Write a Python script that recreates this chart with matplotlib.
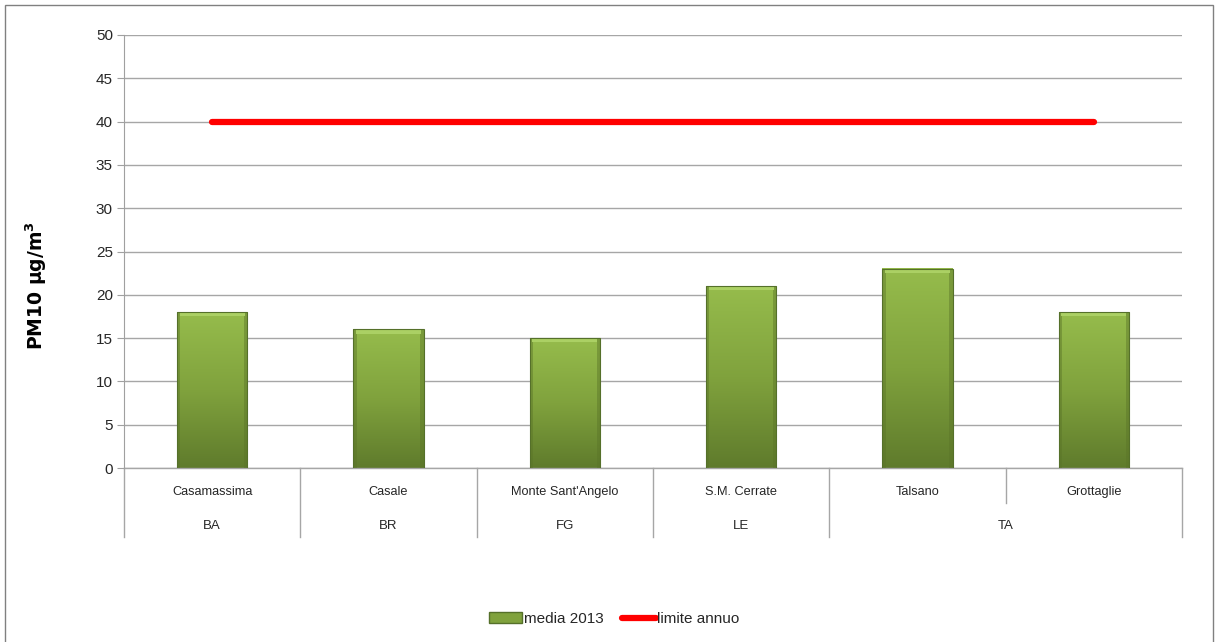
import numpy as np
import matplotlib.pyplot as plt
from matplotlib.patches import Rectangle
from matplotlib.lines import Line2D
from matplotlib.colors import LinearSegmentedColormap
import matplotlib.transforms as mtransforms

plt.rcParams['font.family'] = ['Liberation Sans', 'DejaVu Sans']

# stations, provinces and yearly means
stations = ["Casamassima", "Casale", "Monte Sant'Angelo", "S.M. Cerrate", "Talsano", "Grottaglie"]
provinces = ["BA", "BR", "FG", "LE", "TA"]
province_span = [1, 1, 1, 1, 2]
media_2013 = [18, 16, 15, 21, 23, 18]
limite_annuo = 40

fig = plt.figure(figsize=(12.15, 6.42), dpi=100)
W, H = 1215, 642
ax = fig.add_axes([124 / W, 1 - 468 / H, (1182 - 124) / W, (468 - 35) / H])

n = len(stations)
x = np.arange(n)
ax.set_yticks(np.arange(0, 51, 5))
ax.tick_params(axis='y', labelsize=11, labelcolor='#262626', length=5, color='#a0a0a0', pad=3)
ax.tick_params(axis='x', bottom=False, labelbottom=False)
ax.yaxis.grid(True, color='#a6a6a6', linewidth=1)
ax.set_axisbelow(True)
for s in ['top', 'right', 'bottom']:
    ax.spines[s].set_visible(False)
ax.spines['left'].set_color('#a0a0a0')

# green bars with vertical gradient and bevelled edges
green = LinearSegmentedColormap.from_list('g', ['#5f7b2c', '#80a23d', '#96bc4c'])
grad = np.linspace(0, 1, 256).reshape(-1, 1)
bw = 0.4
for xi, v in zip(x, media_2013):
    ax.imshow(grad, cmap=green, origin='lower', aspect='auto',
              extent=[xi - bw / 2, xi + bw / 2, 0, v], zorder=2)
    # darker side strips
    for sx in (xi - bw / 2, xi + bw / 2 - 0.02):
        ax.add_patch(Rectangle((sx, 0), 0.02, v, facecolor='#5a7428',
                               edgecolor='none', alpha=0.45, zorder=3))
    # light bevel at top
    ax.add_patch(Rectangle((xi - bw / 2 + 0.015, v - 0.5), bw - 0.03, 0.45,
                           facecolor='#abd064', edgecolor='none', zorder=3))
    ax.add_patch(Rectangle((xi - bw / 2, 0), bw, v, fill=False,
                           edgecolor='#55702a', linewidth=0.8, zorder=3))
ax.set_xlim(-0.5, n - 0.5)
ax.set_ylim(0, 50)

# annual limit line
ax.plot([x[0], x[-1]], [limite_annuo] * 2, color='#ff0000', linewidth=4.5,
        solid_capstyle='round', zorder=4)

# two-level category axis
trans = mtransforms.blended_transform_factory(ax.transData, ax.transAxes)
y_row1 = (468 - 503) / 433
y_row2 = (468 - 537) / 433
line_kw = dict(color='#a6a6a6', linewidth=1, transform=trans, clip_on=False)
ax.plot([-0.5, n - 0.5], [0, 0], **line_kw)
ax.plot([-0.5, -0.5], [0, y_row2], **line_kw)
ax.plot([n - 0.5, n - 0.5], [0, y_row2], **line_kw)
for i, st in enumerate(stations):
    ax.text(i, (468 - 492) / 433, st, transform=trans, ha='center', va='center',
            fontsize=9.2, color='#262626')
pos = 0
for prov, span in zip(provinces, province_span):
    left = pos - 0.5
    right = pos + span - 0.5
    ax.text((left + right) / 2, (468 - 526) / 433, prov, transform=trans,
            ha='center', va='center', fontsize=9.5, color='#262626')
    for k in range(1, span):
        ax.plot([left + k, left + k], [0, y_row1], **line_kw)
    if right < n - 0.5:
        ax.plot([right, right], [0, y_row2], **line_kw)
    pos += span

ax.set_ylabel('PM10 µg/m$^\\mathbf{3}$', fontsize=13.5, fontweight='bold',
              family='DejaVu Sans')
ax.yaxis.set_label_coords((49 - 124) / (1182 - 124), (468 - 286) / 433)

# legend
handles = [Rectangle((0, 0), 1, 1, facecolor='#80a23d', edgecolor='#55702a'),
           Line2D([0], [0], color='#ff0000', linewidth=4.5, solid_capstyle='round')]
leg = fig.legend(handles, ['media 2013', 'limite annuo'], loc='center',
                 bbox_to_anchor=(614 / W, 1 - 619 / H), ncol=2, frameon=False,
                 fontsize=11, handlelength=2.2, handletextpad=0.1, columnspacing=1.2)
for t in leg.get_texts():
    t.set_color('#262626')

# outer frame
fig.add_artist(Rectangle((5 / W, -0.01), (1213 - 5) / W, 1 - 5 / H + 0.01,
                         transform=fig.transFigure, fill=False,
                         edgecolor='#808080', linewidth=1))

fig.savefig('out.png', dpi=100)
